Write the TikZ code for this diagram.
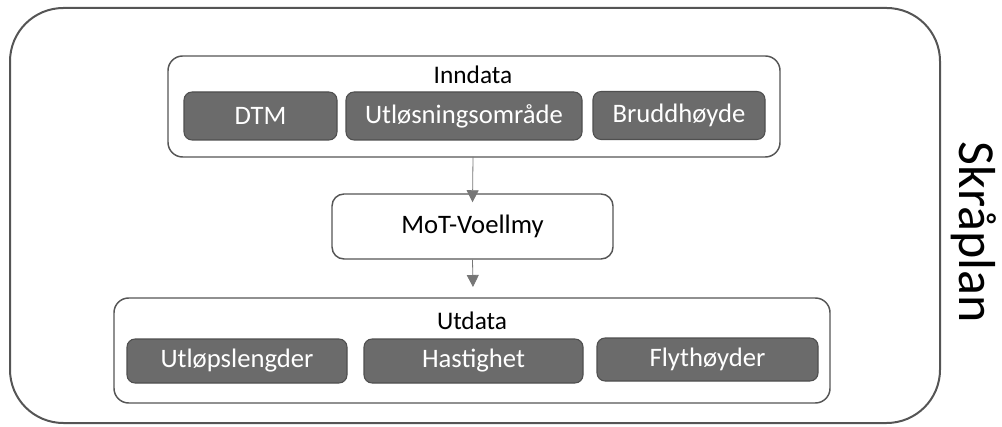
\documentclass[tikz,border=0pt]{standalone}
\usepackage{fontspec}
\setmainfont{Carlito}
\usetikzlibrary{arrows.meta}
\definecolor{edge}{HTML}{555555}
\definecolor{boxfill}{HTML}{6B6B6B}
\definecolor{boxedge}{HTML}{4F4F4F}
\definecolor{arrowgray}{HTML}{767676}
\tikzset{
  frame/.style={draw=edge, line width=1.5pt, rounded corners=40pt},
  group/.style={draw=edge, line width=1.1pt, rounded corners=11pt, fill=white},
  item/.style={draw=boxedge, line width=0.8pt, fill=boxfill, rounded corners=6pt,
    text=white, font=\fontsize{20}{24}\selectfont},
  proc/.style={draw=edge, line width=1.1pt, rounded corners=9pt, fill=white,
    font=\fontsize{20}{24}\selectfont},
  title/.style={font=\fontsize{19}{23}\selectfont},
  flow/.style={draw=arrowgray, line width=0.6pt, -{Triangle[width=9pt,length=9pt]}},
}
\begin{document}
\begin{tikzpicture}[x=0.75pt, y=-0.75pt]
\useasboundingbox (0,0) rectangle (1002,427);
% outer frame
\draw[frame] (10,8) rectangle (940,423);
\node[rotate=-90, font=\fontsize{39}{46}\selectfont] (side) at (974,232) {Skråplan};
% input group
\draw[group] (168,56) rectangle (780,157);
\coordinate (inBot) at (473,157);
\node[title] (inT) at (473,75) {Inndata};
\node[item, minimum width=153*0.75pt, minimum height=48*0.75pt] (dtm) at (260.5,116) {DTM};
\node[item, minimum width=236*0.75pt, minimum height=48*0.75pt] (rel) at (464,116) {Utløsningsområde};
\node[item, minimum width=172*0.75pt, minimum height=48*0.75pt] (brh) at (679,115.5) {Bruddhøyde};
% model
\node[proc, minimum width=281*0.75pt, minimum height=65*0.75pt] (mot) at (472.5,226.5) {MoT-Voellmy};
% output group
\draw[group] (114,298) rectangle (830,403);
\coordinate (outTop) at (473,298);
\node[title] (outT) at (472,321) {Utdata};
\node[item, minimum width=220*0.75pt, minimum height=44*0.75pt] (len) at (237,361) {Utløpslengder};
\node[item, minimum width=219*0.75pt, minimum height=44*0.75pt] (vel) at (473.5,361) {Hastighet};
\node[item, minimum width=221*0.75pt, minimum height=43*0.75pt] (hgt) at (707.5,359.5) {Flythøyder};
% connectors
\draw[flow] (inBot) -- ([yshift=-9*0.75pt]mot.north);
\draw[flow] (mot.south) -- ([yshift=11*0.75pt]outTop);
\end{tikzpicture}
\end{document}
